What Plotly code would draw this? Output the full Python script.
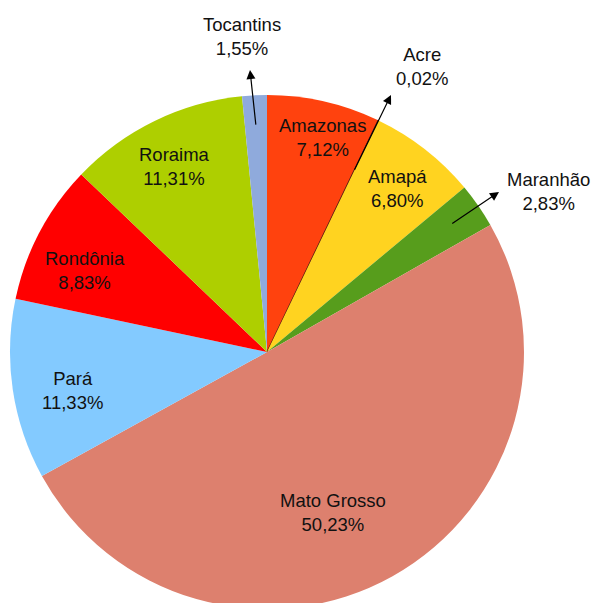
import math
import plotly.graph_objects as go

# ---- data ----
states = ["Amazonas", "Acre", "Amapá", "Maranhão", "Mato Grosso",
          "Pará", "Rondônia", "Roraima", "Tocantins"]
values = [7.12, 0.02, 6.80, 2.83, 50.23, 11.33, 8.83, 11.31, 1.55]
value_labels = ["7,12%", "0,02%", "6,80%", "2,83%", "50,23%",
                "11,33%", "8,83%", "11,31%", "1,55%"]
colors = ["#FF420E", "#7E0021", "#FFD320", "#579D1C", "#DD806E",
          "#83CAFF", "#FF0000", "#AECF00", "#8FAADC"]

# ---- layout constants (pixels) ----
W, H = 600, 612          # page window is 603 high; pie bottom is cut off
CX, CY, R = 267, 352, 257

# label block centres (pixels)
label_pos = {
    "Amazonas": (322, 138), "Acre": (422, 66), "Amapá": (397, 188),
    "Maranhão": (548, 191), "Mato Grosso": (333, 512), "Pará": (72, 390),
    "Rondônia": (85, 270), "Roraima": (174, 167), "Tocantins": (242, 36),
}
# arrow heads for outside labels (pixels) and radial fraction of tails
arrow_head = {"Tocantins": (250, 70), "Acre": (391, 95), "Maranhão": (499, 192)}
arrow_rf = {"Tocantins": 0.88, "Acre": 0.78, "Maranhão": 0.87}

line_w = [1.2 if s == "Acre" else 0 for s in states]

fig = go.Figure(go.Pie(
    labels=states, values=values, sort=False, direction="clockwise",
    rotation=0, textinfo="none", hoverinfo="label+percent",
    marker=dict(colors=colors, line=dict(color="#5A1A10", width=line_w)),
    domain=dict(x=[(CX - R) / W, (CX + R) / W],
                y=[(H - CY - R) / H, (H - CY + R) / H]),
    showlegend=False,
))

def px2paper(x, y):
    return x / W, 1 - y / H

annotations = []
font = dict(family="Liberation Sans, Arial, sans-serif", size=18.5, color="#111111")
for s, vl in zip(states, value_labels):
    x, y = px2paper(*label_pos[s])
    annotations.append(dict(x=x, y=y, xref="paper", yref="paper",
                            text=f"{s}<br>{vl}", showarrow=False,
                            xanchor="center", yanchor="middle", font=font))

total = sum(values)
cum = 0.0
mids = {}
for s, v in zip(states, values):
    mids[s] = (cum + v / 2) / total * 2 * math.pi
    cum += v

for s, (hx, hy) in arrow_head.items():
    a = mids[s]
    tx = CX + arrow_rf[s] * R * math.sin(a)
    ty = CY - arrow_rf[s] * R * math.cos(a)
    x, y = px2paper(hx, hy)
    annotations.append(dict(x=x, y=y, xref="paper", yref="paper", text="",
                            showarrow=True, ax=tx - hx, ay=ty - hy,
                            axref="pixel", ayref="pixel",
                            arrowhead=2, arrowsize=1.5, arrowwidth=1.2,
                            arrowcolor="#000000", standoff=0, startstandoff=0))

fig.update_layout(
    width=W, height=H, margin=dict(l=0, r=0, t=0, b=0),
    paper_bgcolor="white", plot_bgcolor="white",
    annotations=annotations,
)

fig.write_html(
    "out.html",
    config={"displayModeBar": False},
    post_script="document.body.style.margin='0';"
                "document.body.style.overflow='hidden';"
                "document.documentElement.style.overflow='hidden';",
)
